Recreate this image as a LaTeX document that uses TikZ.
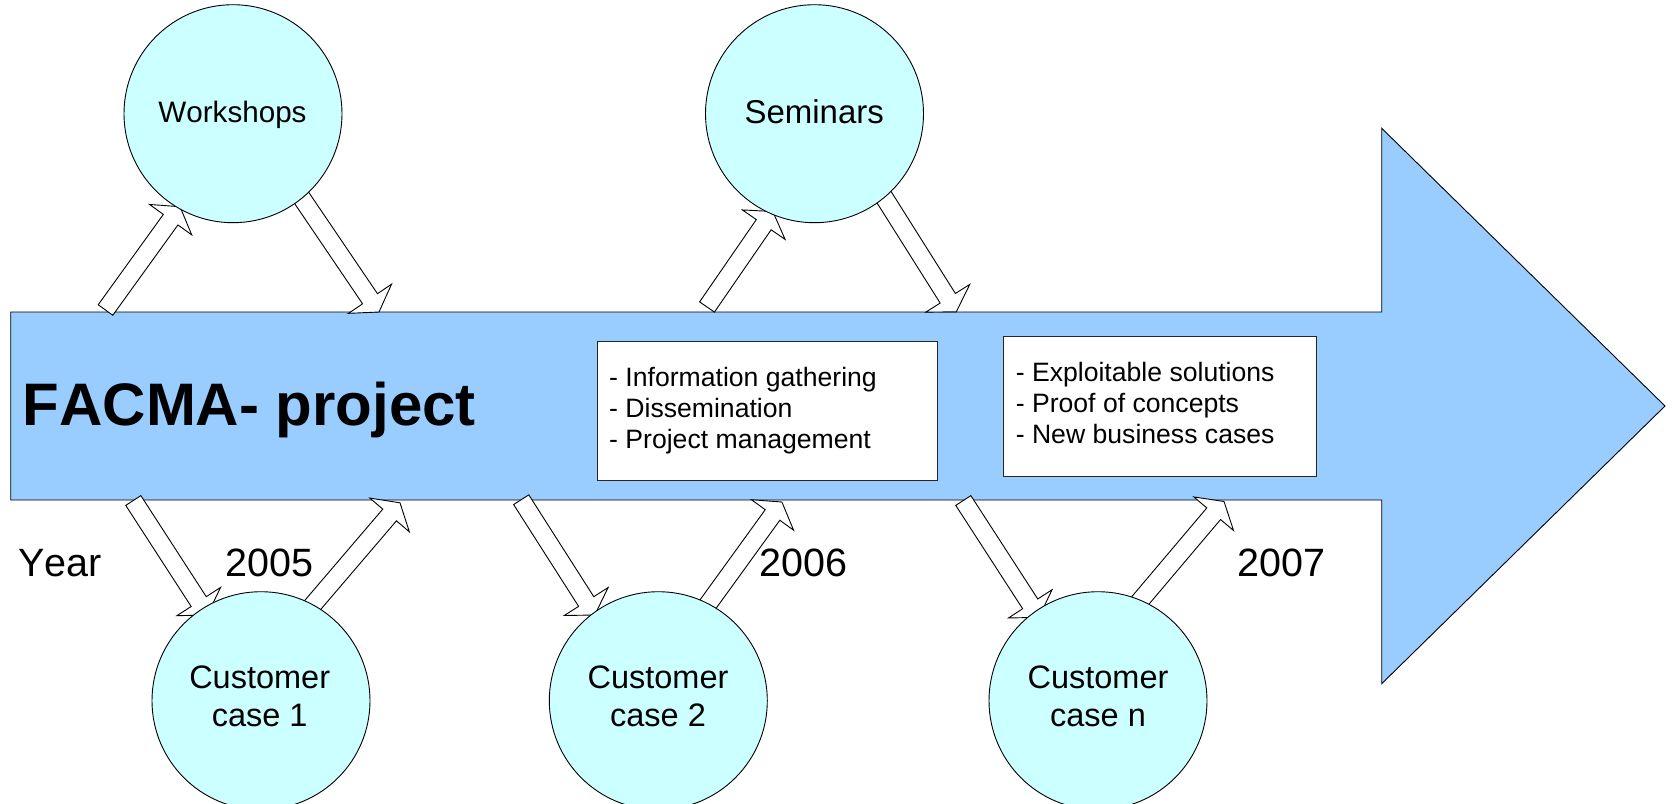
\documentclass[tikz,border=0pt]{standalone}
\usepackage{fontspec}
\setmainfont{Liberation Sans}[Kerning=Off]
\usetikzlibrary{calc}
\definecolor{bodyblue}{HTML}{99CCFF}
\definecolor{bubblecyan}{HTML}{CCFFFF}
\newcommand\hollowarrow[2]{%
  \coordinate (hb) at ($(#2)!16pt!(#1)$);
  \draw[harr] ($(#1)!9pt!90:(#2)$) -- ($(hb)!9pt!-90:(#1)$) -- ($(hb)!26pt!-90:(#1)$) -- (#2)
    -- ($(hb)!26pt!90:(#1)$) -- ($(hb)!9pt!90:(#1)$) -- ($(#1)!9pt!-90:(#2)$) -- cycle;
}
\begin{document}
\begin{tikzpicture}[x=1pt,y=-1pt,
  harr/.style={draw=black,fill=white,line width=0.9pt,line join=miter},
  bubble/.style={circle,draw=black,fill=bubblecyan,line width=0.9pt,minimum size=218pt,inner sep=0pt},
  infobox/.style={rectangle,draw=black!85,fill=white,line width=1pt,inner sep=0pt,anchor=north west},
  boxtext/.style={anchor=base west,inner sep=0pt,align=left,font=\fontsize{26.6}{31}\selectfont},
  yeartext/.style={anchor=base west,inner sep=0pt,font=\fontsize{39.5}{45}\selectfont},
  bubbletext/.style={anchor=base,inner sep=0pt,align=center}]
\useasboundingbox (0,0) rectangle (1672,803);
% main arrow
\draw[fill=bodyblue,draw=black,line width=0.9pt] (10.7,312) coordinate (bodytl) -- (1381.7,312) -- (1381.7,128.3) -- (1665,406) -- (1381.7,683.7) -- (1381.7,500) -- (10.7,500) -- cycle;
% connector end points
\coordinate (t1) at (105.5,310);   \coordinate (h1) at (180,206.7);
\coordinate (t2) at (294.8,187.8); \coordinate (h2) at (379,312);
\coordinate (t3) at (707,307);     \coordinate (h3) at (772.8,211.5);
\coordinate (t4) at (876.3,184.9); \coordinate (h4) at (956.3,311.8);
\coordinate (t5) at (133.3,500.5); \coordinate (h5) at (207.4,615);
\coordinate (t6) at (302.6,616.8); \coordinate (h6) at (400,502.8);
\coordinate (t7) at (521.2,499.7); \coordinate (h7) at (594.8,615);
\coordinate (t8) at (694,623.5);   \coordinate (h8) at (781.9,502);
\coordinate (t9) at (963.3,500.5); \coordinate (h9) at (1038.9,617.3);
\coordinate (t10) at (1127.1,616.1); \coordinate (h10) at (1224,501.5);
\hollowarrow{t1}{h1}
\hollowarrow{t2}{h2}
\hollowarrow{t3}{h3}
\hollowarrow{t4}{h4}
\hollowarrow{t5}{h5}
\hollowarrow{t6}{h6}
\hollowarrow{t7}{h7}
\hollowarrow{t8}{h8}
\hollowarrow{t9}{h9}
\hollowarrow{t10}{h10}
% bubbles
\node[bubble] (ws) at (233,113.7) {};
\node[bubble] (sem) at (814.5,113.7) {};
\node[bubble] (cc1) at (261,700.7) {};
\node[bubble] (cc2) at (658.3,700.7) {};
\node[bubble] (ccn) at (1098,700.7) {};
\node[bubbletext,font=\fontsize{29.6}{34}\selectfont] (wstext) at (232.5,122) {Workshops};
\node[bubbletext,font=\fontsize{33}{38}\selectfont] (semtext) at (814.2,123.5) {Seminars};
\node[bubbletext,font=\fontsize{32.5}{38.4}\selectfont] (cc1text) at (259.7,726.7) {Customer\\case 1};
\node[bubbletext,font=\fontsize{32.5}{38.4}\selectfont] (cc2text) at (658,726.7) {Customer\\case 2};
\node[bubbletext,font=\fontsize{32.5}{38.4}\selectfont] (ccntext) at (1098,726.7) {Customer\\case n};
% info boxes
\node[infobox,minimum width=340.6pt,minimum height=139pt] (box1) at (596.7,341) {};
\node[infobox,minimum width=312.7pt,minimum height=139.7pt] (box2) at (1003.3,336) {};
\node[boxtext] (box1text) at (609,448.5) {- Information gathering\\- Dissemination\\- Project management};
\node[boxtext] (box2text) at (1015.6,443.5) {- Exploitable solutions\\- Proof of concepts\\- New business cases};
% title
\node[anchor=base west,inner sep=0pt,font=\fontsize{60}{66}\selectfont\bfseries] (title) at (22.5,425) {FACMA- project};
% years
\node[yeartext] (year) at (18,576.5) {Year};
\node[yeartext] (y2005) at (225,576.5) {2005};
\node[yeartext] (y2006) at (759,576.5) {2006};
\node[yeartext] (y2007) at (1237,576.5) {2007};
\end{tikzpicture}
\end{document}
